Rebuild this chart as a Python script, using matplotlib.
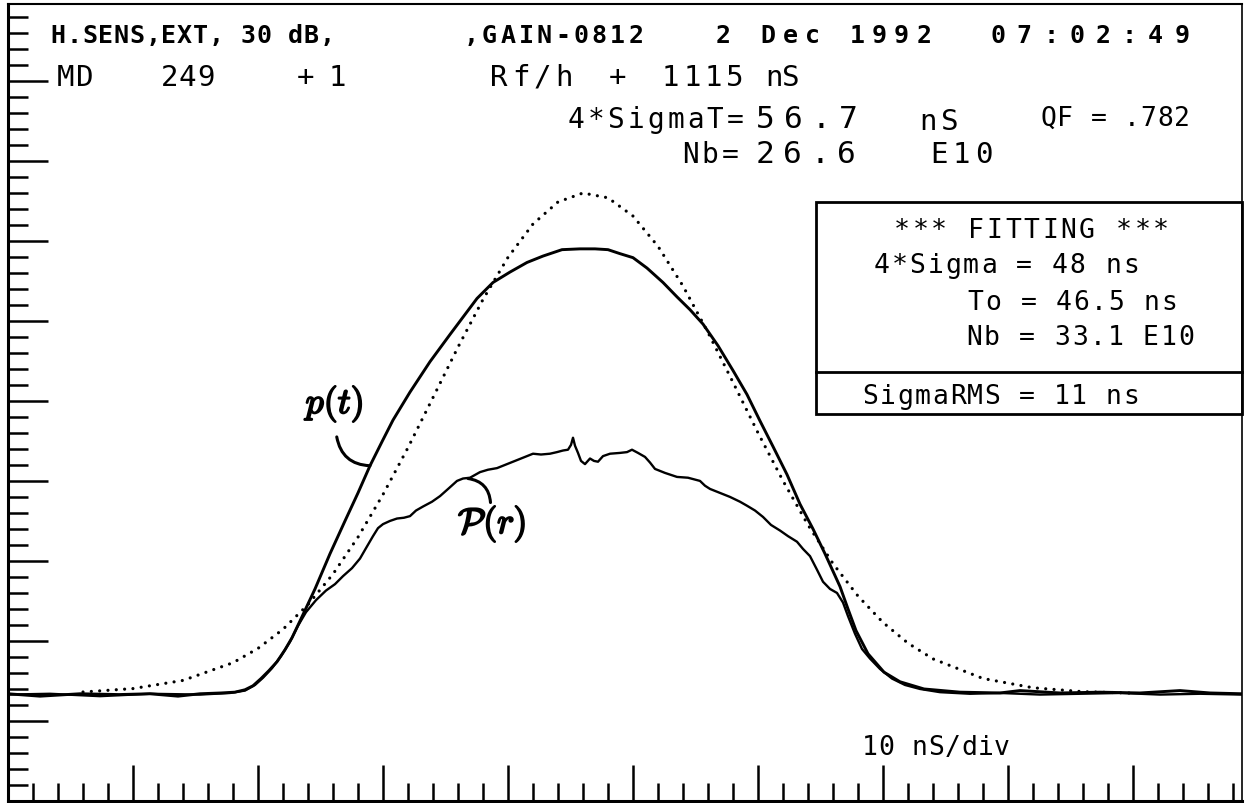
import numpy as np
import matplotlib
matplotlib.use("Agg")
import matplotlib.pyplot as plt
from matplotlib.patches import Rectangle
from matplotlib.lines import Line2D
import matplotlib.patheffects as pe

plt.rcParams['font.family'] = ['DejaVu Sans Mono']
plt.rcParams['mathtext.fontset'] = 'cm'

# time axis in ns (10 nS/div), amplitude in screen divisions
pt_t = [0.0, 2.56, 5.76, 8.88, 11.36, 13.6, 15.36, 17.04, 18.16, 18.96, 19.6, 20.24,
        20.88, 21.52, 22.16, 22.72, 23.36, 24.56, 25.76, 26.96, 28.0, 28.96, 29.92,
        30.8, 32.16, 33.76, 35.36, 36.56, 37.52, 38.8, 40.16, 41.52, 42.8, 44.32,
        45.76, 46.96, 48.0, 48.96, 50.0, 51.12, 52.4, 53.52, 54.56, 55.6, 56.8, 58.0,
        59.12, 60.16, 61.2, 62.32, 63.36, 64.4, 65.36, 66.56, 67.2, 67.84, 68.8,
        70.08, 71.36, 73.28, 76.16, 79.36, 80.96, 84.16, 87.36, 90.56, 93.76, 96.16, 98.72]
pt_y = [1.34, 1.31, 1.34, 1.33, 1.34, 1.31, 1.34, 1.35, 1.36, 1.39, 1.44, 1.53,
        1.63, 1.74, 1.89, 2.04, 2.25, 2.65, 3.09, 3.50, 3.85, 4.19, 4.49,
        4.76, 5.11, 5.49, 5.83, 6.08, 6.28, 6.48, 6.61, 6.73, 6.81, 6.89,
        6.90, 6.90, 6.89, 6.84, 6.79, 6.66, 6.48, 6.30, 6.14, 5.96, 5.69, 5.38,
        5.08, 4.75, 4.43, 4.08, 3.71, 3.40, 3.09, 2.68, 2.40, 2.13, 1.84,
        1.61, 1.49, 1.40, 1.36, 1.35, 1.38, 1.35, 1.36, 1.35, 1.38, 1.35, 1.34]

pr_t = [0.0, 3.36, 7.36, 11.36, 15.36, 17.76, 18.96, 19.76, 20.4, 21.12, 21.84, 22.56,
        23.2, 23.84, 24.64, 25.44, 26.16, 26.8, 27.52, 28.16, 28.64, 29.2, 29.6, 30.0,
        30.56, 31.12, 31.68, 32.16, 32.64, 33.2, 33.92, 34.56, 35.28, 35.92, 36.4,
        36.96, 37.76, 38.4, 39.12, 39.76, 40.4, 41.2, 42.0, 42.64, 43.36, 43.92, 44.4,
        44.8, 45.04, 45.2, 45.36, 45.6, 45.84, 46.16, 46.56, 46.88, 47.2, 47.6, 48.16,
        48.96, 49.52, 49.92, 50.4, 50.96, 51.36, 51.76, 52.56, 53.52, 54.4, 55.36,
        55.76, 56.16, 56.96, 57.76, 58.56, 59.12, 59.76, 60.4, 61.04, 61.76, 62.4,
        63.12, 63.6, 64.16, 64.72, 65.2, 65.76, 66.32, 66.8, 67.2, 67.76, 68.32,
        68.96, 69.76, 70.72, 71.76, 72.96, 74.56, 76.96, 79.36, 82.56, 85.76, 88.96,
        92.16, 95.36, 98.72]
pr_y = [1.33, 1.34, 1.31, 1.34, 1.33, 1.35, 1.38, 1.45, 1.54, 1.66, 1.81, 1.99,
        2.19, 2.36, 2.51, 2.63, 2.71, 2.81, 2.91, 3.03, 3.16, 3.31, 3.41, 3.46,
        3.50, 3.53, 3.54, 3.56, 3.63, 3.68, 3.74, 3.81, 3.91, 4.00, 4.03,
        4.04, 4.11, 4.14, 4.16, 4.20, 4.24, 4.29, 4.34, 4.33, 4.34, 4.36, 4.38,
        4.39, 4.45, 4.54, 4.44, 4.35, 4.25, 4.21, 4.28, 4.25, 4.24, 4.31, 4.34,
        4.35, 4.36, 4.39, 4.35, 4.30, 4.23, 4.15, 4.10, 4.05, 4.04, 4.00,
        3.94, 3.90, 3.85, 3.80, 3.74, 3.69, 3.63, 3.55, 3.45, 3.38, 3.31,
        3.24, 3.15, 3.06, 2.89, 2.74, 2.65, 2.60, 2.48, 2.31, 2.09, 1.90,
        1.78, 1.65, 1.53, 1.45, 1.40, 1.36, 1.34, 1.35, 1.33, 1.34, 1.35,
        1.33, 1.34, 1.33]

# fitted gaussian (dotted)
fit_t = [6, 10, 14, 18, 20, 22, 24, 26, 28, 30, 32, 34, 36, 38, 40, 42, 44, 46, 48,
         50, 52, 54, 56, 58, 60, 62, 64, 66, 68, 70, 72, 74, 78, 82, 86, 90]
fit_y = [1.362, 1.405, 1.507, 1.728, 1.907, 2.146, 2.455, 2.836, 3.297, 3.830, 4.416,
         5.042, 5.672, 6.268, 6.794, 7.211, 7.486, 7.598, 7.538, 7.310, 6.932, 6.436,
         5.855, 5.232, 4.601, 4.001, 3.450, 2.966, 2.561, 2.231, 1.972, 1.776, 1.531,
         1.415, 1.366, 1.348]

W, H = 1245, 804
fig = plt.figure(figsize=(W / 100, H / 100), dpi=100)
ax = fig.add_axes([8 / W, 2 / H, (1242 - 8) / W, (802 - 5) / H])
ax.set_xlim(0, 98.72)
ax.set_ylim(0, 9.96)

ax.set_xticks(np.arange(0, 99, 10))
ax.set_xticks(np.arange(0, 99, 2), minor=True)
ax.set_yticks(np.arange(0, 10, 1))
ax.set_yticks(np.arange(0, 10, 0.2), minor=True)
ax.tick_params(axis='x', which='major', direction='in', length=26, width=1.8, labelbottom=False)
ax.tick_params(axis='x', which='minor', direction='in', length=13, width=1.8)
ax.tick_params(axis='y', which='major', direction='in', length=29, width=1.8, labelleft=False)
ax.tick_params(axis='y', which='minor', direction='in', length=14.5, width=1.8)
ax.spines['left'].set_linewidth(2.2)
ax.spines['bottom'].set_linewidth(2.2)
ax.spines['top'].set_linewidth(1.5)
ax.spines['right'].set_linewidth(1.2)

ax.plot(fit_t, fit_y, color='black', lw=2.3, linestyle=(0, (0.01, 2.6)),
        dash_capstyle='round')
ax.plot(pt_t, pt_y, color='black', lw=2.1, solid_joinstyle='round')
ax.plot(pr_t, pr_y, color='black', lw=1.7, solid_joinstyle='round')

# curve labels with pointers
bold = [pe.withStroke(linewidth=1.3, foreground='black')]
ax.annotate('', xy=(28.96, 4.19), xytext=(26.3, 4.55),
            arrowprops=dict(arrowstyle='-', connectionstyle='arc3,rad=0.4',
                            lw=2.2, color='black', shrinkA=0, shrinkB=0))
ax.annotate('', xy=(38.6, 3.73), xytext=(36.8, 4.03),
            arrowprops=dict(arrowstyle='-', connectionstyle='arc3,rad=-0.4',
                            lw=2.2, color='black', shrinkA=0, shrinkB=0))


def fx(px):
    return px / W


def fy(py):
    return 1 - py / H


fig.text(fx(335), fy(405), r'$p(t)$', fontsize=26, ha='center', va='center', path_effects=bold)
fig.text(fx(492), fy(525), r'$\mathcal{P}(r)$', fontsize=26, ha='center', va='center', path_effects=bold)


# plotter style text: fixed pitch, one character per cell
def plotter(x0, x1, base, s, size, weight='normal'):
    pitch = (x1 - x0) / len(s)
    for i, ch in enumerate(s):
        if ch != ' ':
            fig.text(fx(x0 + (i + 0.5) * pitch), fy(base), ch, fontsize=size,
                     ha='center', va='baseline', fontweight=weight)


plotter(50, 335, 43, 'H.SENS,EXT, 30 dB,', 18, 'bold')
plotter(462, 645, 43, ',GAIN-0812', 18, 'bold')
plotter(712, 935, 43, '2 Dec 1992', 18, 'bold')
plotter(985, 1195, 43, '07:02:49', 18, 'bold')

plotter(55, 95, 86, 'MD', 21)
plotter(160, 215, 86, '249', 21)
plotter(297, 345, 86, '+ 1', 21)
plotter(488, 575, 86, 'Rf/h', 21)
plotter(607, 627, 86, '+', 21)
plotter(660, 745, 86, '1115', 21)
plotter(765, 800, 86, 'nS', 21)

plotter(566, 745, 128, '4*SigmaT=', 20)
plotter(752, 862, 128, '56.7', 22.5)
plotter(918, 960, 130, 'nS', 21)
plotter(1040, 1190, 126, 'QF = .782', 19)
plotter(680, 740, 163, 'Nb=', 20)
plotter(752, 860, 163, '26.6', 22.5)
plotter(928, 995, 163, 'E10', 21)

# fitting box
fig.add_artist(Rectangle((fx(816), fy(415)), fx(1242) - fx(816), fy(203) - fy(415),
                         transform=fig.transFigure, fill=False, lw=2.0, ec='black'))
fig.add_artist(Line2D([fx(816), fx(1242)], [fy(373), fy(373)],
                      transform=fig.transFigure, lw=2.0, color='black'))
plotter(893, 1170, 238, '*** FITTING ***', 19)
plotter(873, 1140, 273, '4*Sigma = 48 ns', 19)
plotter(967, 1178, 310, 'To = 46.5 ns', 19)
plotter(965, 1195, 345, 'Nb = 33.1 E10', 19)
plotter(862, 1140, 404, 'SigmaRMS = 11 ns', 19)

plotter(862, 1010, 755, '10 nS/div', 19)

fig.savefig('out.png', dpi=100)
